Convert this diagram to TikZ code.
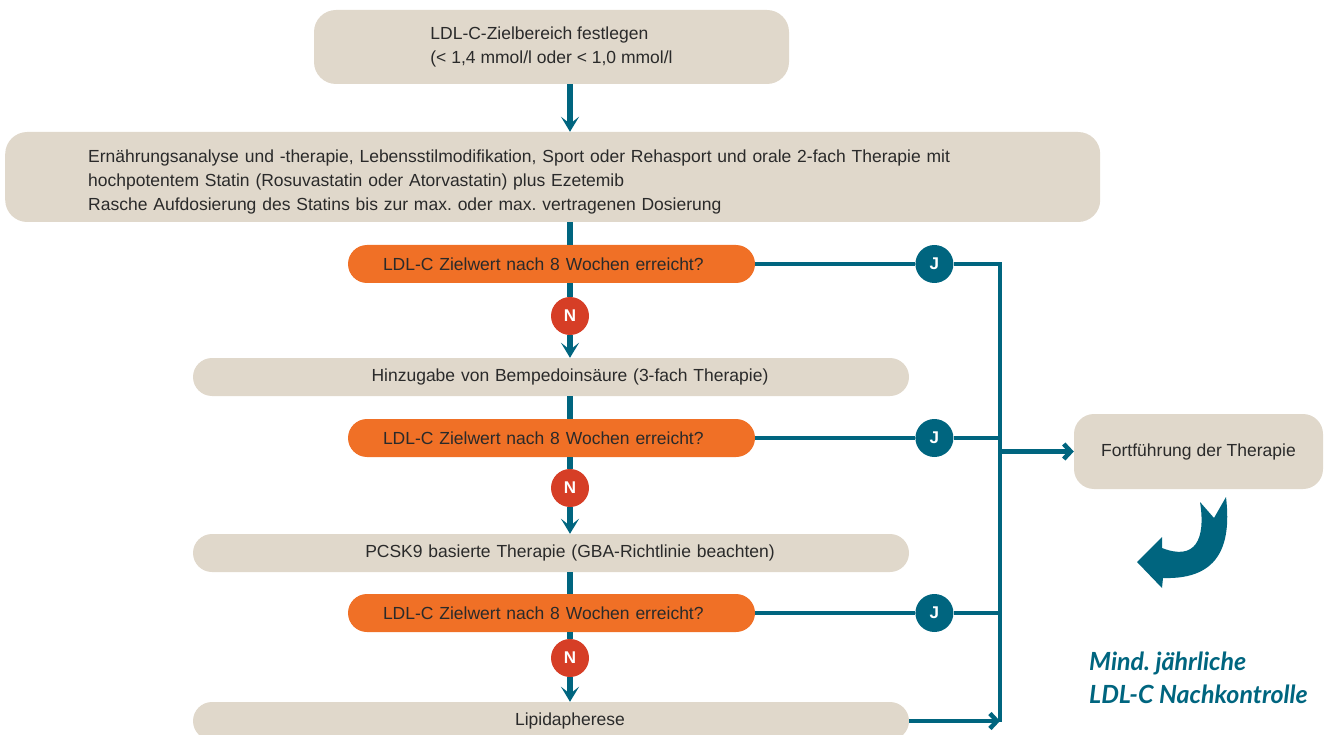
\documentclass[tikz,border=0pt]{standalone}
\usepackage{fontspec}
\setmainfont{Liberation Sans}
\newfontfamily\notefont{Lato}
\usepackage{xcolor}
\usepackage{tikz}
\usetikzlibrary{positioning, arrows.meta}
\definecolor{sand}{HTML}{E0D8CB}
\definecolor{flame}{HTML}{F07026}
\definecolor{rust}{HTML}{D63E26}
\definecolor{petrol}{HTML}{00657F}
\definecolor{ink}{HTML}{2A2A2A}
\newcommand{\boxfont}{\fontsize{17.5}{24}\selectfont}
\frenchspacing

\tikzset{
  box/.style={fill=sand, text=ink, font=\boxfont, inner ysep=0pt},
  startbox/.style={box, rounded corners=22pt, minimum width=475pt, minimum height=74pt, align=left},
  widebox/.style={box, rounded corners=22pt, text width=929pt, inner xsep=83pt, minimum height=90pt, align=left},
  pill/.style={box, rounded corners=19pt, minimum height=38pt, text width=678pt, inner xsep=19pt,
    align=center, execute at begin node=\hspace*{38pt}},
  ask/.style={fill=flame, text=ink, font=\boxfont, rounded corners=19pt, minimum height=38pt,
    text width=337pt, inner xsep=35pt, inner ysep=0pt, align=left},
  contbox/.style={box, rounded corners=20pt, minimum width=249pt, minimum height=75pt},
  mark circle/.style={circle, minimum size=38pt, inner sep=0pt, text=white, font=\bfseries\fontsize{17}{17}\selectfont},
  nein/.style={mark circle, fill=rust},
  ja/.style={mark circle, fill=petrol},
  flow/.style={draw=petrol, line width=5.5pt, -{Stealth[length=15pt, width=18pt, inset=7pt]}},
  link/.style={draw=petrol, line width=4.5pt},
  barb/.style={link, -{Straight Barb[length=7pt, width=15pt]}}
}

\begin{document}
\begin{tikzpicture}[x=1pt, y=-1pt]
  \useasboundingbox (0,0) rectangle (1333,735);

  % boxes
  \node[startbox] (goal) at (551.5,47) {LDL-C-Zielbereich festlegen\\(< 1,4 mmol/l oder < 1,0 mmol/l};
  \node[widebox, anchor=west] (basis) at (5,177) {\rule{0pt}{23pt}Ernährungsanalyse und -therapie, Lebensstilmodifikation, Sport oder Rehasport und orale 2-fach Therapie mit\\
    hochpotentem Statin (Rosuvastatin oder Atorvastatin) plus Ezetemib\\
    Rasche Aufdosierung des Statins bis zur max. oder max. vertragenen Dosierung};

  \node[ask] (q1) at (551.5,264) {LDL-C Zielwert nach 8 Wochen erreicht?};
  \node[nein] (n1) at (570,316) {N};
  \node[pill] (p1) at (551,377) {Hinzugabe von Bempedoinsäure (3-fach Therapie)};

  \node[ask] (q2) at (551.5,438) {LDL-C Zielwert nach 8 Wochen erreicht?};
  \node[nein] (n2) at (570,488) {N};
  \node[pill] (p2) at (551,553) {PCSK9 basierte Therapie (GBA-Richtlinie beachten)};

  \node[ask] (q3) at (551.5,613) {LDL-C Zielwert nach 8 Wochen erreicht?};
  \node[nein] (n3) at (570,658) {N};
  \node[pill] (p3) at (551,721) {Lipidapherese};

  \node[ja, right=160pt of q1] (j1) {J};
  \node[ja, right=160pt of q2] (j2) {J};
  \node[ja, right=160pt of q3] (j3) {J};

  \node[contbox] (cont) at (1198.5,451.5) {Fortführung der Therapie};
  \node[anchor=north west, align=left, text=petrol, inner sep=0pt,
        font=\notefont\bfseries\itshape\fontsize{25}{33}\selectfont] (check) at (1089,652)
        {Mind. jährliche\\LDL-C Nachkontrolle};

  \coordinate (bustop) at (1000,264);
  \coordinate (busend) at (1000,722);

  % main line
  \draw[flow] (goal.south -| n1) -- (basis.north -| n1);
  \draw[link, line width=5.5pt] (basis.south -| n1) -- (q1.north -| n1);
  \draw[link, line width=5.5pt] (q1.south -| n1) -- (n1);
  \draw[flow] (n1) -- (p1.north -| n1);
  \draw[link, line width=5.5pt] (p1.south -| n1) -- (q2.north -| n1);
  \draw[link, line width=5.5pt] (q2.south -| n1) -- (n2);
  \draw[flow] (n2) -- (p2.north -| n1);
  \draw[link, line width=5.5pt] (p2.south -| n1) -- (q3.north -| n1);
  \draw[link, line width=5.5pt] (q3.south -| n1) -- (n3);
  \draw[flow] (n3) -- (p3.north -| n1);

  % yes branches
  \draw[link] (q1) -- (j1);
  \draw[link] (j1) -- (bustop) -- (busend);
  \draw[link] (q2) -- (j2) -- (j2 -| bustop);
  \draw[link] (q3) -- (j3) -- (j3 -| bustop);
  \draw[barb] (p3) -- (p3 -| bustop);
  \draw[barb] (cont.west -| bustop) -- (cont.west);

  % yearly loop arrow
  \fill[petrol] (1200,502) -- (1214,518) -- (1226,497)
    .. controls (1231,540) and (1223,580) .. (1163,578)
    -- (1162,588) -- (1137,562) -- (1162,537) -- (1162,548)
    .. controls (1195,561) and (1206,540) .. (1200,502) -- cycle;
\end{tikzpicture}
\end{document}
